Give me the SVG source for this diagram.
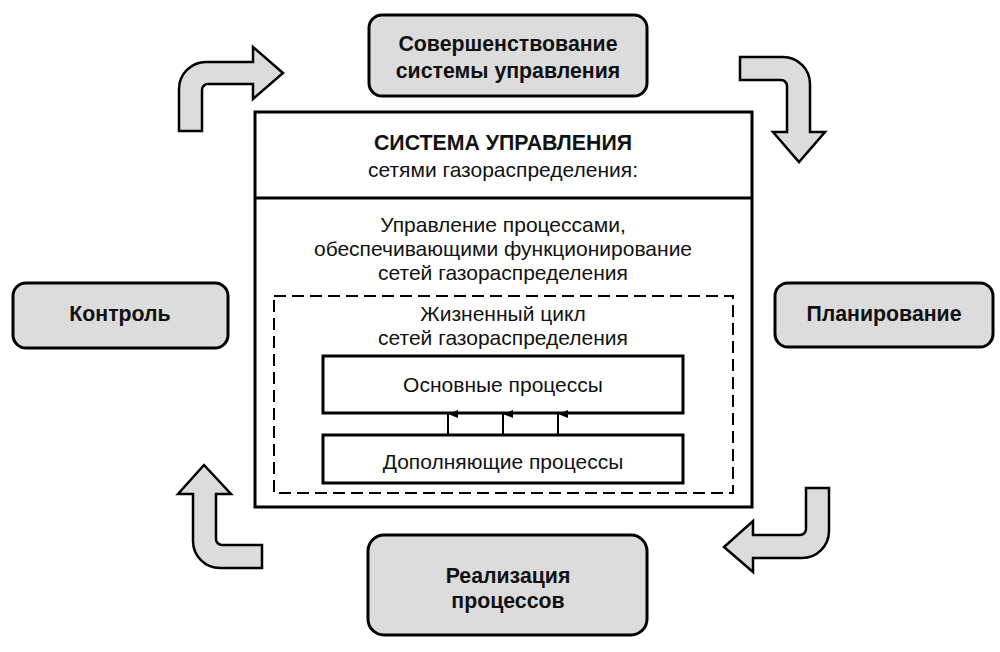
<svg xmlns="http://www.w3.org/2000/svg" width="1000" height="652" viewBox="0 0 1000 652">
<defs>
<style>
.stage{fill:#dcdcdc;stroke:#000;stroke-width:3}
.box{fill:#fff;stroke:#000;stroke-width:3}
.dash{fill:none;stroke:#000;stroke-width:2;stroke-dasharray:12 6}
.big{fill:#dcdcdc;stroke:#000;stroke-width:2.5;stroke-linejoin:miter}
.b{font-family:"Liberation Sans",Arial,sans-serif;font-weight:bold;font-size:21.3px;fill:#111;text-anchor:middle}
.r{font-family:"Liberation Sans",Arial,sans-serif;font-size:21px;fill:#111;text-anchor:middle}
.small{stroke:#000;stroke-width:2}
</style>
<marker id="ah" viewBox="0 0 8 10" refX="4" refY="0" markerWidth="8" markerHeight="10" markerUnits="userSpaceOnUse" orient="auto-start-reverse">
<path d="M0,10 L4,0 L8,10 Z" fill="#000"/>
</marker>
</defs>
<rect width="1000" height="652" fill="#fff"/>

<g id="system">
<rect class="box" x="255" y="112" width="497" height="395"/>
<line x1="255" y1="198" x2="752" y2="198" stroke="#000" stroke-width="3"/>
<text class="b" x="503" y="150">СИСТЕМА УПРАВЛЕНИЯ</text>
<text class="r" x="503" y="177">сетями газораспределения:</text>
<text class="r" x="503" y="232">Управление процессами,</text>
<text class="r" x="503" y="256">обеспечивающими функционирование</text>
<text class="r" x="503" y="280">сетей газораспределения</text>
</g>

<g id="lifecycle">
<rect class="dash" x="274" y="296" width="459" height="197"/>
<text class="r" x="503" y="321">Жизненный цикл</text>
<text class="r" x="503" y="345">сетей газораспределения</text>
</g>

<g id="main-processes">
<rect class="box" x="323" y="356" width="360" height="57"/>
<text class="r" x="503" y="392">Основные процессы</text>
</g>

<g id="support-processes">
<rect class="box" x="323" y="435" width="360" height="48"/>
<text class="r" x="503" y="469">Дополняющие процессы</text>
</g>

<g id="improvement">
<rect class="stage" x="369" y="15" width="278" height="81" rx="13"/>
<text class="b" x="508" y="51">Совершенствование</text>
<text class="b" x="508" y="78">системы управления</text>
</g>

<g id="planning">
<rect class="stage" x="775" y="283" width="218" height="64" rx="13"/>
<text class="b" x="884" y="321">Планирование</text>
</g>

<g id="realization">
<rect class="stage" x="368" y="535" width="279" height="100" rx="16"/>
<text class="b" x="508" y="583">Реализация</text>
<text class="b" x="508" y="608">процессов</text>
</g>

<g id="control">
<rect class="stage" x="13" y="283" width="215" height="65" rx="13"/>
<text class="b" x="120" y="321">Контроль</text>
</g>

<g id="connectors">
<path class="big" d="M179,131 L179,89 A27,27 0 0 1 206,62 L253,62 L253,47 L283,73 L253,99 L253,84 L208,84 A6,6 0 0 0 202,90 L202,131 Z"/>
<path class="big" d="M740,57 L783,57 A27,27 0 0 1 810,84 L810,132 L825,132 L799,162 L773,132 L787,132 L787,86 A6,6 0 0 0 781,80 L740,80 Z"/>
<path class="big" d="M806,488 L829,488 L829,531 A27,27 0 0 1 802,558 L753,558 L753,572 L724,547 L753,521 L753,535 L800,535 A6,6 0 0 0 806,529 Z"/>
<path class="big" d="M262,545 L262,568 L220,568 A27,27 0 0 1 193,541 L193,494 L178,494 L204,465 L231,494 L216,494 L216,539 A6,6 0 0 0 222,545 Z"/>
<line class="small" x1="448" y1="435" x2="448" y2="414" marker-end="url(#ah)"/>
<line class="small" x1="503" y1="435" x2="503" y2="414" marker-end="url(#ah)"/>
<line class="small" x1="558" y1="435" x2="558" y2="414" marker-end="url(#ah)"/>
</g>
</svg>
